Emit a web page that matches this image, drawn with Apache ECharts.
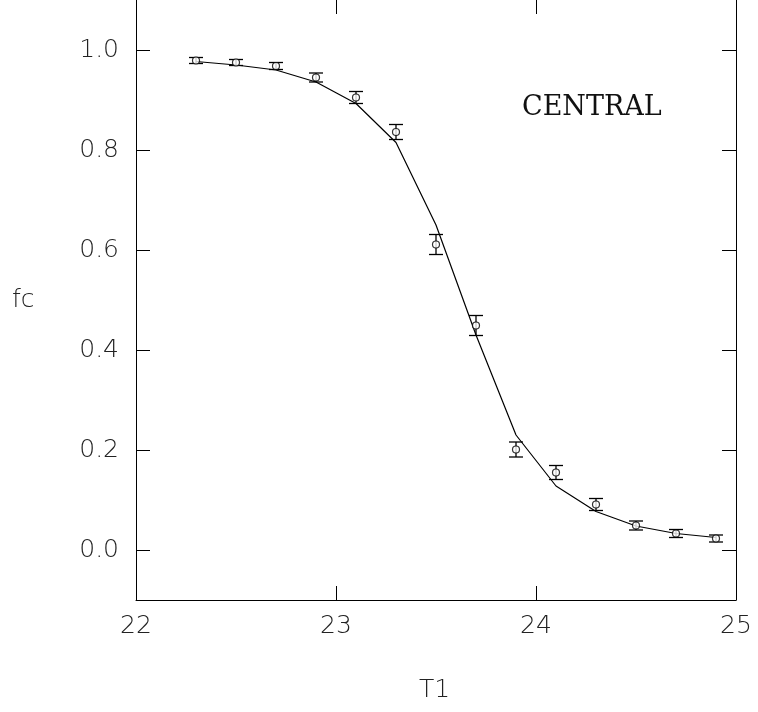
<!DOCTYPE html>
<html>
<head>
<meta charset="utf-8">
<script src="https://cdn.jsdelivr.net/npm/echarts@6/dist/echarts.min.js"></script>
<style>
html,body{margin:0;padding:0;background:#fff;}
#chart{width:758px;height:712px;}
</style>
</head>
<body>
<div id="chart"></div>
<script>
// Data
const T1 = [22.3, 22.5, 22.7, 22.9, 23.1, 23.3, 23.5, 23.7, 23.9, 24.1, 24.3, 24.5, 24.7, 24.9];
const fcMeasured = [0.979, 0.975, 0.968, 0.945, 0.905, 0.836, 0.611, 0.449, 0.201, 0.155, 0.091, 0.049, 0.033, 0.023];
const fcError = [0.006, 0.006, 0.007, 0.009, 0.012, 0.015, 0.020, 0.020, 0.015, 0.014, 0.012, 0.009, 0.008, 0.007];
const fcFit = [0.977, 0.970, 0.960, 0.936, 0.893, 0.815, 0.650, 0.430, 0.230, 0.128, 0.077, 0.048, 0.033, 0.025];
const xTicks = [22, 23, 24, 25];
const yTicks = [0.0, 0.2, 0.4, 0.6, 0.8, 1.0];

const labelFont = {fontFamily: '"DejaVu Sans", sans-serif', fontWeight: 200, fontSize: 25, color: '#222'};

const chart = echarts.init(document.getElementById('chart'), null, {renderer: 'canvas'});

const measuredPts = T1.map((x, i) => [x, fcMeasured[i]]);
const fitPts = T1.map((x, i) => [x, fcFit[i]]);
const errPts = T1.map((x, i) => [x, fcMeasured[i] - fcError[i], fcMeasured[i] + fcError[i]]);

const option = {
  backgroundColor: '#fff',
  animation: false,
  grid: {left: 136, right: 22, top: 0, bottom: 112, containLabel: false},
  xAxis: [{
    type: 'value', min: 22, max: 25, interval: 1, position: 'bottom',
    axisLine: {show: true, onZero: false, lineStyle: {color: '#000', width: 1}},
    axisTick: {show: true, inside: true, length: 14, lineStyle: {color: '#000', width: 1}},
    axisLabel: Object.assign({margin: 14, formatter: v => String(v), customValues: xTicks}, labelFont),
    splitLine: {show: false}
  }, {
    type: 'value', min: 22, max: 25, interval: 1, position: 'top',
    axisLine: {show: false, onZero: false},
    axisTick: {show: true, inside: true, length: 14, lineStyle: {color: '#000', width: 1}},
    axisLabel: {show: false},
    splitLine: {show: false}
  }],
  yAxis: [{
    type: 'value', min: -0.1, max: 1.1, position: 'left',
    axisLine: {show: true, onZero: false, lineStyle: {color: '#000', width: 1}},
    axisTick: {show: true, inside: true, length: 14, customValues: yTicks, lineStyle: {color: '#000', width: 1}},
    axisLabel: Object.assign({margin: 17, customValues: yTicks, formatter: v => v.toFixed(1)}, labelFont),
    splitLine: {show: false}
  }, {
    type: 'value', min: -0.1, max: 1.1, position: 'right',
    axisLine: {show: true, onZero: false, lineStyle: {color: '#000', width: 1}},
    axisTick: {show: true, inside: true, length: 14, customValues: yTicks, lineStyle: {color: '#000', width: 1}},
    axisLabel: {show: false},
    splitLine: {show: false}
  }],
  series: [{
    type: 'line', data: fitPts, xAxisIndex: 0, yAxisIndex: 0,
    showSymbol: false, symbol: 'none', smooth: false,
    lineStyle: {color: '#000', width: 1.2}, z: 2
  }, {
    type: 'custom', data: errPts, xAxisIndex: 0, yAxisIndex: 0, z: 3,
    renderItem: function (params, api) {
      const x = api.value(0);
      const lo = api.coord([x, api.value(1)]);
      const hi = api.coord([x, api.value(2)]);
      const hw = 7;
      const st = {stroke: '#000', lineWidth: 1.3};
      return {type: 'group', children: [
        {type: 'line', shape: {x1: lo[0], y1: lo[1], x2: hi[0], y2: hi[1]}, style: st},
        {type: 'line', shape: {x1: lo[0] - hw, y1: lo[1], x2: lo[0] + hw, y2: lo[1]}, style: st},
        {type: 'line', shape: {x1: hi[0] - hw, y1: hi[1], x2: hi[0] + hw, y2: hi[1]}, style: st}
      ]};
    }
  }, {
    type: 'scatter', data: measuredPts, xAxisIndex: 0, yAxisIndex: 0, z: 4,
    symbol: 'circle', symbolSize: 7,
    itemStyle: {color: '#fff', borderColor: '#000', borderWidth: 1.2}
  }],
  graphic: [
    {type: 'text', left: 12, top: 288, style: {text: 'fc', font: '200 25px "DejaVu Sans", sans-serif', fill: '#222'}},
    {type: 'text', left: 419, top: 678, style: {text: 'T1', font: '200 25px "DejaVu Sans", sans-serif', fill: '#222'}},
    {type: 'text', left: 522, top: 94, style: {text: 'CENTRAL', font: '27px "DejaVu Serif", serif', fill: '#111'}}
  ]
};
chart.setOption(option);
</script>
</body>
</html>
